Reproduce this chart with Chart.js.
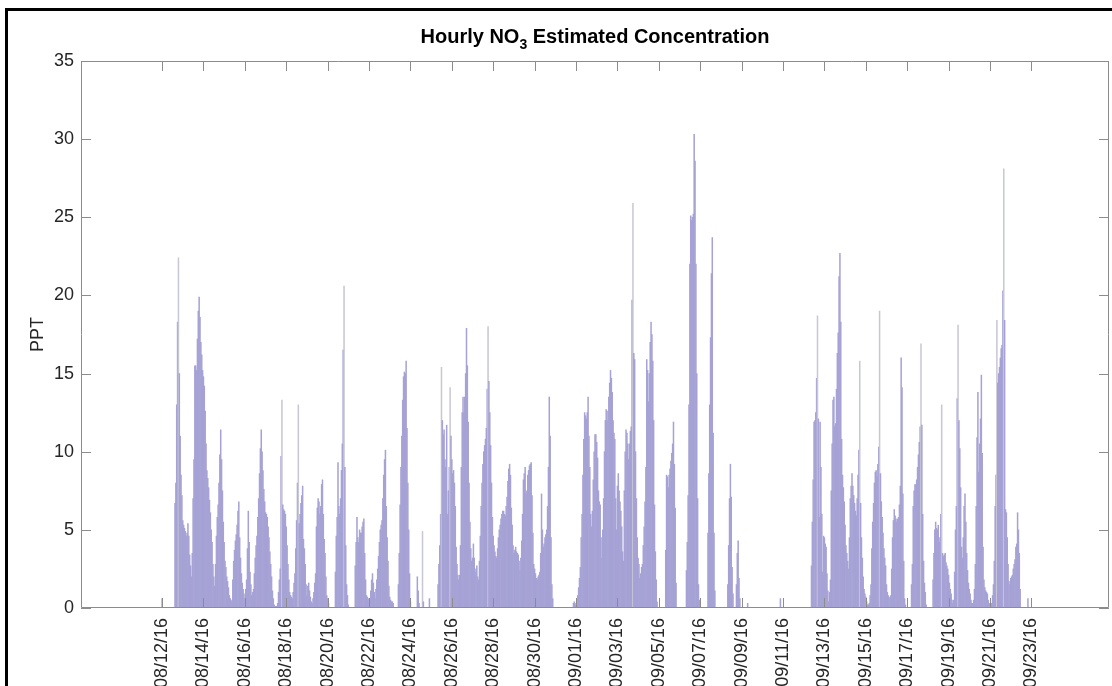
<!DOCTYPE html>
<html>
<head>
<meta charset="utf-8">
<title>Hourly NO3 Estimated Concentration</title>
<script src="https://cdn.jsdelivr.net/npm/chart.js@4.4.0/dist/chart.umd.min.js"></script>
<style>
  html, body { margin: 0; padding: 0; background: #fff; overflow: hidden; }
  #marco { position: absolute; left: 5px; top: 8px; width: 1200px; height: 800px;
           border-left: 3px solid #000; border-top: 3px solid #000; }
  #grafico { position: absolute; left: 0; top: 0; }
</style>
</head>
<body>
<div id="marco"></div>
<canvas id="grafico" width="1112" height="700"></canvas>
<script>
// Etiquetas del eje X (una cada 48 horas, empezando el 08/12/16 a las 00:00)
const tickLabels = ['08/12/16', '08/14/16', '08/16/16', '08/18/16', '08/20/16', '08/22/16',
    '08/24/16', '08/26/16', '08/28/16', '08/30/16', '09/01/16', '09/03/16', '09/05/16',
    '09/07/16', '09/09/16', '09/11/16', '09/13/16', '09/15/16', '09/17/16', '09/19/16',
    '09/21/16', '09/23/16'];
const yTicks = [0, 5, 10, 15, 20, 25, 30, 35];

// Concentración horaria (PPT), una fila de 24 horas por día
const semana1 = [ // 08/12 - 08/18
    0.6, 0, 0, 0, 0, 0, 0, 0, 0, 0, 0, 0, 0, 0, 0, 6.7, 8, 13, 18.3, 22.4, 15, 11, 8.5, 7.2,
    5.6, 5.3, 5.1, 4.9, 4.6, 4.8, 5.4, 4.6, 3.4, 2.7, 2, 3.5, 7, 9.5, 15.5, 15.5, 15.2, 17.2, 19, 19.9, 18.6, 17, 16.2, 15.2,
    14.8, 14.2, 12.6, 10.5, 8.8, 8.3, 7.7, 6.9, 6.1, 5, 4.2, 2.8, 2, 1.4, 2.8, 4.6, 5.8, 6.6, 8, 9.8, 11.4, 9.5, 7.5, 5.5,
    4.2, 3, 2.6, 2, 1.7, 1.3, 0.8, 0.6, 0.5, 0.4, 1.8, 3, 3.7, 4.3, 4.7, 5.3, 6.2, 6.8, 4.5, 3.2, 2.2, 1.6, 1.2, 0.9,
    0.6, 1.2, 1.8, 3.8, 6.2, 4.2, 2.3, 1.5, 0.8, 1, 1.2, 2.2, 3.2, 4, 4.6, 5.8, 7, 8.6, 10.2, 11.4, 10, 8.8, 7.6, 6.8,
    6.1, 6, 5.8, 5.2, 4.5, 3.6, 2.8, 2, 1.1, 0.6, 0.2, 0.1, 0.1, 0.1, 0.3, 1, 1.8, 2.5, 9.7, 13.3, 6.6, 6.3, 6.2, 6,
    5.2, 4, 2.8, 1.8, 1, 0.8, 0.7, 0.6, 1, 1.6, 2.2, 3.8, 5.6, 8, 13, 5.4, 6, 6.7, 7.2, 7.8, 4.4, 3.8, 2.8, 1.5
];
const semana2 = [ // 08/19 - 08/25
    0.8, 1.4, 1.6, 1.1, 0.7, 0.4, 0.3, 0.6, 1, 1.6, 2.2, 5.2, 6.4, 7, 6.8, 6, 6.5, 7.9, 8.2, 6, 4.4, 3.5, 2, 0.8,
    0.6, 0.3, 0, 0, 0, 0, 0, 0, 0, 2.3, 4.6, 5.8, 9.3, 6.5, 6, 7, 8.8, 10.5, 16.5, 20.6, 9, 4, 1.5, 0.8,
    0.2, 0, 0, 0, 0, 0, 0, 0, 2.7, 4.2, 5.8, 4.5, 4.2, 5, 4.8, 4.8, 5.2, 5.5, 5.7, 3.5, 1.8, 0.8, 0.7, 0.6,
    0.4, 0.6, 1.1, 1.8, 2.2, 1.6, 1, 0.6, 1.2, 1.8, 2.5, 3.3, 4.2, 5, 5.3, 5.6, 7, 8.5, 9.5, 10.1, 6.5, 4.5, 3, 1.4,
    0.7, 0.5, 0.4, 0.4, 0.3, 0, 0, 0, 0, 0, 1.5, 3.5, 6.6, 9, 11, 13.3, 14.8, 15.1, 15, 15.8, 11.5, 8, 5, 2.2,
    0.4, 0, 0, 0, 0, 0, 0, 0, 2, 1.1, 0.3, 0, 0, 0, 4.9, 0.4, 0, 0, 0, 0, 0, 0, 0.6, 0,
    0, 0, 0, 0, 0, 0, 0, 0, 1.5, 2.8, 4, 6, 15.4, 12, 11.1, 11.4, 9.5, 9, 11.7, 6, 7.5, 9, 14.1, 11
];
const semana3 = [ // 08/26 - 09/01
    9.5, 8.6, 8.8, 8, 6.5, 3.9, 2.8, 2.1, 1.8, 2.1, 4, 9, 12.5, 13.5, 12.5, 13.5, 15, 17.9, 15.5, 11.9, 8, 5.5, 3.8, 3,
    3.2, 4.1, 3.2, 2.3, 2.5, 2.7, 2, 1.8, 3, 4.6, 6.5, 8, 9.2, 10, 10.4, 10.8, 11.5, 14, 18, 14.5, 12.5, 10.4, 8, 5.8,
    4.6, 4, 3.6, 3.3, 3.2, 3.8, 4.5, 5, 5.3, 5.7, 6, 6.2, 6.2, 6, 5.9, 6.5, 7.1, 8.1, 8.9, 9.2, 8.5, 6.4, 5.3, 4,
    3.5, 3.7, 3.9, 3.6, 3.5, 3.4, 3, 2.4, 3.2, 4.3, 6, 8.2, 8.6, 9, 7.3, 7.5, 8.5, 8.8, 9.1, 9.2, 9.3, 7.2, 4.8, 2.8,
    2.5, 2.2, 1.9, 1.8, 2, 2.1, 2.3, 3.5, 7.3, 5, 3.9, 4.1, 4.5, 4.7, 5, 6.5, 9, 13.5, 11, 4.5, 1.5, 0.6, 0, 0,
    0, 0, 0, 0, 0, 0, 0, 0, 0, 0, 0, 0, 0, 0, 0, 0, 0, 0, 0, 0, 0, 0.3, 0.4, 0.2,
    0.3, 0.4, 0.8, 1.3, 1.9, 2.6, 4.5, 6, 8.5, 10.8, 12.5, 12.3, 12.1, 12.5, 13.5, 11, 9, 6, 5.2, 6.2, 8.2, 10, 11.1, 11.1
];
const semana4 = [ // 09/02 - 09/08
    10.6, 9.6, 7.5, 6.8, 6.6, 4.5, 3.2, 5, 7, 10, 12, 12.7, 12, 12.6, 13.5, 14.4, 15.2, 14.7, 13.8, 12, 11.2, 10.8, 7, 5,
    7.8, 8.6, 7.5, 6.8, 6.2, 5.2, 3.6, 3, 7.5, 10, 11.4, 11.2, 10.5, 9.5, 10.5, 11.3, 11.6, 19.7, 25.9, 16.3, 15.9, 10, 7, 4.5,
    3.2, 2.8, 1.9, 2.2, 2.6, 2.8, 4, 5.2, 6.8, 9, 15.9, 15.2, 13.2, 15, 17, 18.3, 17.5, 15.8, 12, 6.6, 3.6, 1.8, 0.4, 0,
    0, 0, 0, 0, 0, 0, 0, 0, 3.7, 8.5, 8.4, 7.7, 8.5, 8.9, 9.4, 9.9, 10.5, 11.9, 9.2, 6.4, 1.6, 0, 0, 0,
    0, 0, 0, 0, 0, 0, 0, 0, 2.4, 4.2, 7.2, 13, 22, 25.1, 24.8, 25, 25.2, 30.3, 28.6, 22, 15, 7, 1.5, 0.5,
    0, 0, 0, 0, 0, 0, 0, 0, 0, 4.8, 8.6, 13, 17.3, 21.4, 23.7, 11.2, 4.8, 1.1, 0, 0, 0, 0, 0, 0,
    0, 0, 0, 0, 0, 0, 0, 0, 1.5, 4, 7, 9.2, 7.1, 2.6, 0.9, 0, 0, 0, 1.5, 3.5, 4.3, 1.9, 0.6, 0
];
const semana5 = [ // 09/09 - 09/15
    0, 0, 0, 0, 0, 0, 0, 0.3, 0, 0, 0, 0, 0, 0, 0, 0, 0, 0, 0, 0, 0, 0, 0, 0,
    0, 0, 0, 0, 0, 0, 0, 0, 0, 0, 0, 0, 0, 0, 0, 0, 0, 0, 0, 0, 0, 0.6, 0, 0,
    0, 0, 0, 0, 0, 0, 0, 0, 0, 0, 0, 0, 0, 0, 0, 0, 0, 0, 0, 0, 0, 0, 0, 0,
    0, 0, 0, 0, 0, 0, 0, 0, 0, 2.7, 5.5, 8.2, 11.9, 12, 12.5, 14.7, 18.7, 12.1, 5.8, 11.9, 9, 6, 2.3, 4.6,
    4.5, 4.1, 3.9, 2.2, 1.1, 0.4, 1, 1.8, 7.5, 10.5, 13.3, 13.5, 11.6, 11.8, 14, 16.3, 17.6, 21.2, 22.7, 18.3, 10.8, 8.5, 7.7, 6.8,
    5.3, 4, 3.5, 3, 2.5, 4.5, 7, 7.8, 8.6, 7.8, 7.2, 6.7, 6.2, 5.9, 7, 8.5, 10.1, 15.8, 6.7, 4.5, 3.2, 2, 1.2, 0.9,
    0.7, 0.4, 0.2, 0.2, 0.3, 0.8, 1.5, 3.8, 5.5, 6.7, 8, 8.7, 8.8, 8.4, 9.2, 10.3, 19, 8.6, 6.8, 5.8, 4.8, 3.8, 3.2, 2.7
];
const semana6 = [ // 09/16 - 09/22
    1.5, 1, 0.8, 0.7, 0.6, 0.8, 2.5, 4.5, 5.6, 6.3, 5.9, 5.7, 5.5, 5.7, 5.8, 6.6, 7.8, 16, 14.1, 7.3, 3, 0.6, 0.2, 0,
    0, 0, 0, 0, 0, 1.5, 2.8, 6.5, 7.5, 7.9, 7.9, 8.2, 9, 9.8, 10.6, 11.6, 16.9, 11.7, 6, 3, 1.6, 1, 0.2, 0,
    0, 0, 0, 0, 0, 0, 1.8, 3.5, 5, 5.5, 5.1, 5, 5.3, 4.2, 4.5, 6, 13, 3.5, 3.3, 3.4, 3.5, 2.9, 2.7, 2.5,
    2.1, 1.6, 1.2, 0.9, 0.5, 0.3, 0.5, 2.3, 5, 6.5, 13.4, 18.1, 12, 10.2, 7.7, 3.9, 3.2, 4.5, 6.5, 7.3, 5.5, 3.5, 2.4, 1.6,
    1.2, 0.9, 0.5, 0.3, 0.3, 0.5, 1.2, 2.8, 6.5, 10.9, 13.8, 8.7, 10.5, 12.1, 14.9, 9.9, 3.9, 1.8, 1.3, 1.1, 1, 0.9, 0.5, 0.3,
    0.3, 0.2, 0.3, 0.8, 1.5, 3, 6.5, 8.5, 18.4, 14.4, 15, 15.4, 16, 16.6, 16.8, 20.3, 28.1, 18.4, 6.3, 6.1, 4.5, 2.8, 1.7, 1.5,
    1.9, 2, 2.1, 2.5, 2.8, 3.1, 3.9, 4.1, 6.1, 5, 3.5, 1.2, 0, 0, 0, 0, 0, 0, 0, 0, 0.6, 0, 0, 0
];

const valores = [].concat(semana1, semana2, semana3, semana4, semana5, semana6);
const puntos = valores.map((v, h) => ({ x: h, y: v })); // x = horas desde 08/12/16 00:00

const fuente = '"Liberation Sans", Arial, Helvetica, sans-serif';
const colorTexto = '#262626';
const largoTick = 10;

// Los picos aislados se ven grises en el original (solo se ve el borde de la barra)
function colorBarra(ctx) {
    const i = ctx.dataIndex;
    const v = valores[i] || 0;
    const vecino = Math.max(valores[i - 1] || 0, valores[i + 1] || 0);
    return (v - vecino > 3) ? 'rgb(200,199,212)' : 'rgb(166,162,213)';
}

// Caja con marcas hacia dentro en los cuatro lados (estilo MATLAB)
const cajaPlugin = {
    id: 'caja',
    afterDatasetsDraw(chart) {
        const { ctx, chartArea: a, scales } = chart;
        ctx.save();
        ctx.strokeStyle = '#8c8c8c';
        ctx.lineWidth = 1;
        ctx.beginPath();
        ctx.rect(a.left + 0.5, a.top + 0.5, a.right - a.left - 1, a.bottom - a.top - 1);
        scales.x.ticks.forEach(t => {
            const px = Math.round(scales.x.getPixelForValue(t.value)) + 0.5;
            ctx.moveTo(px, a.bottom); ctx.lineTo(px, a.bottom - largoTick);
            ctx.moveTo(px, a.top); ctx.lineTo(px, a.top + largoTick);
        });
        scales.y.ticks.forEach(t => {
            const py = Math.round(scales.y.getPixelForValue(t.value)) + 0.5;
            ctx.moveTo(a.left, py); ctx.lineTo(a.left + largoTick, py);
            ctx.moveTo(a.right, py); ctx.lineTo(a.right - largoTick, py);
        });
        ctx.stroke();
        ctx.restore();
    }
};

// Título con subíndice en NO3
const tituloPlugin = {
    id: 'titulo',
    afterDraw(chart) {
        const { ctx, chartArea } = chart;
        const cx = (chartArea.left + chartArea.right) / 2;
        const partes = [
            ['Hourly NO', 'bold 20px ' + fuente, 0],
            ['3', 'bold 14px ' + fuente, 6],
            [' Estimated Concentration', 'bold 20px ' + fuente, 0]
        ];
        ctx.save();
        ctx.fillStyle = '#000';
        ctx.textBaseline = 'alphabetic';
        ctx.textAlign = 'left';
        let total = 0;
        partes.forEach(p => { ctx.font = p[1]; total += ctx.measureText(p[0]).width; });
        let x = cx - total / 2;
        partes.forEach(p => {
            ctx.font = p[1];
            ctx.fillText(p[0], x, 43 + p[2]);
            x += ctx.measureText(p[0]).width;
        });
        ctx.restore();
    }
};

new Chart(document.getElementById('grafico'), {
    type: 'bar',
    data: {
        datasets: [{
            data: puntos,
            backgroundColor: colorBarra,
            borderWidth: 0,
            barPercentage: 1,
            categoryPercentage: 1
        }]
    },
    options: {
        responsive: false,
        animation: false,
        devicePixelRatio: 1,
        layout: { padding: { top: 61, right: 3, left: 0, bottom: 0 } },
        plugins: {
            legend: { display: false },
            tooltip: { enabled: false },
            title: { display: false }
        },
        scales: {
            x: {
                type: 'linear',
                min: -94,
                max: 1098,
                offset: false,
                grid: { display: false, drawTicks: false },
                border: { display: false },
                afterBuildTicks: ax => { ax.ticks = tickLabels.map((_, i) => ({ value: i * 48 })); },
                afterFit: ax => { ax.height = 92; },
                ticks: {
                    autoSkip: false,
                    minRotation: 90,
                    maxRotation: 90,
                    padding: 10,
                    color: colorTexto,
                    font: { family: fuente, size: 18 },
                    callback: (v, i) => tickLabels[i]
                }
            },
            y: {
                min: 0,
                max: 35,
                grid: { display: false, drawTicks: false },
                border: { display: false },
                afterBuildTicks: ax => { ax.ticks = yTicks.map(v => ({ value: v })); },
                afterFit: ax => { ax.width = 81; },
                ticks: {
                    padding: 7,
                    color: colorTexto,
                    font: { family: fuente, size: 18 }
                },
                title: {
                    display: true,
                    text: 'PPT',
                    color: colorTexto,
                    font: { family: fuente, size: 18 },
                    padding: { top: 27, bottom: 0 }
                }
            }
        }
    },
    plugins: [cajaPlugin, tituloPlugin]
});
</script>
</body>
</html>
